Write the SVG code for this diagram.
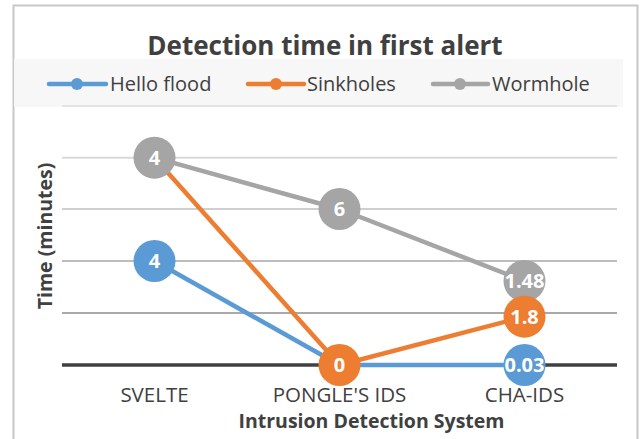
<svg xmlns="http://www.w3.org/2000/svg" width="641" height="439" viewBox="0 0 641 439">
<style>
.t{font-family:"Open Sans","Liberation Sans",sans-serif;fill:#404040}
.cat{font-size:20.5px;text-anchor:middle}
.leg{font-size:20px}
.ax{font-size:19.5px;font-weight:bold}
.dl{font-family:"Open Sans","Liberation Sans",sans-serif;font-size:20px;font-weight:bold;fill:#fff;text-anchor:middle}
.s{fill:none;stroke-width:4.5;stroke-linejoin:round;stroke-linecap:round}
.b{stroke:#5b9bd5}.o{stroke:#ed7d31}.g{stroke:#a5a5a5}
</style>
<rect x="0" y="0" width="641" height="439" fill="#fff"/>
<path d="M13.5 445 V5.5 H637.5 V445" fill="none" stroke="#c8c8c8" stroke-width="2"/>
<g id="title"><text class="t" x="325" y="55" font-size="26" font-weight="bold" text-anchor="middle">Detection time in first alert</text></g>
<g id="legend">
<rect x="14" y="59" width="609" height="48" fill="#f7f7f7"/>
<line x1="49" y1="84" x2="106" y2="84" class="s b" stroke-width="5"/><circle cx="77" cy="84" r="6" fill="#5b9bd5"/>
<text class="t leg" x="110" y="91">Hello flood</text>
<line x1="248" y1="84" x2="304" y2="84" class="s o" stroke-width="5"/><circle cx="276" cy="84" r="6" fill="#ed7d31"/>
<text class="t leg" x="307" y="91">Sinkholes</text>
<line x1="433" y1="84" x2="488" y2="84" class="s g" stroke-width="5"/><circle cx="460" cy="84" r="6" fill="#a5a5a5"/>
<text class="t leg" x="492" y="91">Wormhole</text>
</g>
<g id="grid" stroke-width="2">
<line x1="62" y1="106" x2="617" y2="106" stroke="#e3e3e3"/>
<line x1="62" y1="157.7" x2="617" y2="157.7" stroke="#d9d9d9"/>
<line x1="62" y1="209" x2="617" y2="209" stroke="#cfcfcf"/>
<line x1="62" y1="261" x2="617" y2="261" stroke="#bdbdbd"/>
<line x1="62" y1="313" x2="617" y2="313" stroke="#a9a9a9"/>
<line x1="62" y1="365" x2="617" y2="365" stroke="#404040" stroke-width="3.5"/>
</g>
<g id="connectors">
<polyline class="s b" points="154.5,261 339.5,365 524.5,365"/>
<polyline class="s o" points="154.5,157.7 339.5,365 524.5,316.7"/>
<polyline class="s g" points="154.5,157.7 339.5,209 524.5,281"/>
</g>
<g id="n-svelte-hello"><circle cx="154.5" cy="261" r="21" fill="#5b9bd5"/><text class="dl" x="154.5" y="268">4</text></g>
<g id="n-svelte-sink"><circle cx="154.5" cy="157.7" r="20.5" fill="#ed7d31"/></g>
<g id="n-svelte-worm"><circle cx="154.5" cy="157.7" r="21" fill="#a5a5a5"/><text class="dl" x="154.5" y="164.7">4</text></g>
<g id="n-pongle-worm"><circle cx="339.5" cy="209" r="21" fill="#a5a5a5"/><text class="dl" x="339.5" y="216">6</text></g>
<g id="n-pongle-sink"><circle cx="339.5" cy="365" r="21" fill="#ed7d31"/><text class="dl" x="339.5" y="372">0</text></g>
<g id="n-cha-worm"><circle cx="524.5" cy="281" r="21" fill="#a5a5a5"/><text class="dl" x="524.5" y="288">1.48</text></g>
<g id="n-cha-sink"><circle cx="524.5" cy="316.7" r="21" fill="#ed7d31"/><text class="dl" x="524.5" y="323.7">1.8</text></g>
<g id="n-cha-hello"><circle cx="524.5" cy="365" r="21" fill="#5b9bd5"/><text class="dl" x="524.5" y="372">0.03</text></g>
<g id="axes">
<text class="t cat" x="154.5" y="402">SVELTE</text>
<text class="t cat" x="339.5" y="402">PONGLE'S IDS</text>
<text class="t cat" x="524.5" y="402">CHA-IDS</text>
<text class="t ax" x="371.5" y="428" text-anchor="middle">Intrusion Detection System</text>
<text class="t ax" text-anchor="middle" transform="translate(51.5,236) rotate(-90)">Time (minutes)</text>
</g>
</svg>
